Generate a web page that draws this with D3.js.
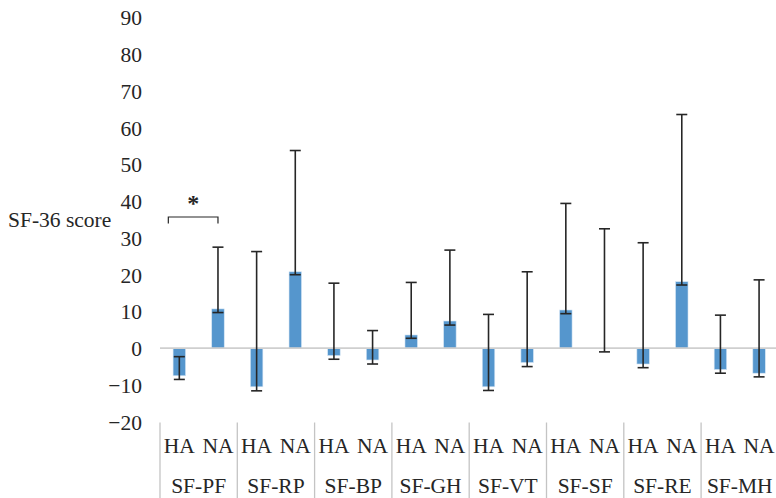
<!DOCTYPE html>
<html>
<head>
<meta charset="utf-8">
<script src="https://cdn.jsdelivr.net/npm/d3@7"></script>
<style>
  body { margin: 0; background: #fff; }
  svg text { font-family: "Liberation Serif", "Times New Roman", serif; fill: #262626; }
</style>
</head>
<body>
<div id="chart"></div>
<script>
// data
var domains = ['SF-PF', 'SF-RP', 'SF-BP', 'SF-GH', 'SF-VT', 'SF-SF', 'SF-RE', 'SF-MH'];
var groups = ['HA', 'NA'];

// mean change, per domain: [HA, NA]
var ha_values = [-7.5, -10.5, -2.0, 3.6, -10.5, 10.4, -4.3, -5.8];
var na_values = [10.7, 20.8, -3.2, 7.4, -3.9, 0.0, 18.1, -6.8];

// error bar ends
var ha_err_top = [-2.3, 26.3, 17.7, 17.9, 9.2, 39.4, 28.7, 9.0];
var ha_err_bottom = [-8.5, -11.6, -3.0, 2.7, -11.5, 9.4, -5.3, -6.8];
var na_err_top = [27.5, 53.8, 4.8, 26.7, 20.8, 32.5, 63.6, 18.6];
var na_err_bottom = [9.7, 20.0, -4.3, 6.3, -5.0, -1.0, 17.2, -7.8];

var y_ticks = [-20, -10, 0, 10, 20, 30, 40, 50, 60, 70, 80, 90];

var svg_size = { 'width': 776, 'height': 498 };
var bar_color = '#5596cd';
var text_size = '21.5px';

var rows = [];
domains.forEach(function(d, i){
    rows.push({ domain: d, group: 'HA', value: ha_values[i], top: ha_err_top[i], bottom: ha_err_bottom[i] });
    rows.push({ domain: d, group: 'NA', value: na_values[i], top: na_err_top[i], bottom: na_err_bottom[i] });
});

var svg = d3.select('#chart')
    .append('svg')
    .attr('width', svg_size.width)
    .attr('height', svg_size.height);

var x_scale = d3.scaleBand()
    .domain(domains)
    .range([160, 778.4])
    .padding(0);

var sub_scale = d3.scaleBand()
    .domain(groups)
    .range([0, x_scale.bandwidth()])
    .padding(0);

var y_scale = d3.scaleLinear()
    .domain([-20, 90])
    .range([421.7, 17.5]);

var bar_width = 12.5;
var cap_width = 11;

// y axis: labels only
var y_axis = d3.axisLeft(y_scale)
    .tickValues(y_ticks)
    .tickSize(0)
    .tickPadding(18)
    .tickFormat(d3.format('d'));

var y_axis_group = svg.append('g')
    .attr('transform', 'translate(160,0)')
    .call(y_axis);
y_axis_group.select('.domain').remove();
y_axis_group.attr('font-family', null).attr('font-size', null);
y_axis_group.selectAll('text')
    .style('font-size', text_size)
    .style('font-family', '"Liberation Serif", serif')
    .attr('fill', '#262626')
    .attr('dy', '0.34em');

svg.append('text')
    .attr('x', 8)
    .attr('y', 226.5)
    .style('font-size', text_size)
    .text('SF-36 score');

// bars
function center(d){
    return x_scale(d.domain) + sub_scale(d.group) + sub_scale.bandwidth()/2;
}

svg.append('g')
    .selectAll('rect')
    .data(rows)
    .enter()
    .append('rect')
    .attr('x', function(d){ return center(d) - bar_width/2; })
    .attr('y', function(d){ return y_scale(Math.max(0, d.value)); })
    .attr('width', bar_width)
    .attr('height', function(d){ return Math.abs(y_scale(d.value) - y_scale(0)); })
    .style('fill', bar_color)
    .style('stroke', '#d6e6f5')
    .style('stroke-width', 0.6);

// zero line
svg.append('line')
    .attr('x1', 160)
    .attr('x2', svg_size.width)
    .attr('y1', y_scale(0))
    .attr('y2', y_scale(0))
    .style('stroke', '#cfcfcf')
    .style('stroke-width', 1.8);

// error bars
var err = svg.append('g')
    .selectAll('.err')
    .data(rows)
    .enter()
    .append('g')
    .classed('err', true)
    .style('stroke', '#262626')
    .style('stroke-width', 1.6);

err.append('line')
    .attr('x1', center)
    .attr('x2', center)
    .attr('y1', function(d){ return y_scale(d.top); })
    .attr('y2', function(d){ return y_scale(d.bottom); });

err.append('line')
    .attr('x1', function(d){ return center(d) - cap_width/2; })
    .attr('x2', function(d){ return center(d) + cap_width/2; })
    .attr('y1', function(d){ return y_scale(d.top); })
    .attr('y2', function(d){ return y_scale(d.top); });

err.append('line')
    .attr('x1', function(d){ return center(d) - cap_width/2; })
    .attr('x2', function(d){ return center(d) + cap_width/2; })
    .attr('y1', function(d){ return y_scale(d.bottom); })
    .attr('y2', function(d){ return y_scale(d.bottom); });

// category axis: dividers and two label rows
var axis_top = 422.5;
svg.append('g')
    .selectAll('line')
    .data(domains)
    .enter()
    .append('line')
    .attr('x1', function(d){ return x_scale(d); })
    .attr('x2', function(d){ return x_scale(d); })
    .attr('y1', axis_top)
    .attr('y2', svg_size.height)
    .style('stroke', '#c4c4c4')
    .style('stroke-width', 1.3);

svg.append('g')
    .selectAll('text')
    .data(rows)
    .enter()
    .append('text')
    .attr('x', center)
    .attr('y', 453.3)
    .attr('text-anchor', 'middle')
    .style('font-size', text_size)
    .text(function(d){ return d.group; });

svg.append('g')
    .selectAll('text')
    .data(domains)
    .enter()
    .append('text')
    .attr('x', function(d){ return x_scale(d) + x_scale.bandwidth()/2; })
    .attr('y', 493)
    .attr('text-anchor', 'middle')
    .style('font-size', text_size)
    .text(function(d){ return d; });

// significance bracket between HA and NA in SF-PF
var b_left = x_scale('SF-PF') + sub_scale('HA') + sub_scale.bandwidth()/2 - 11;
var b_right = x_scale('SF-PF') + sub_scale('NA') + sub_scale.bandwidth()/2;
var b_y = 217;
svg.append('path')
    .attr('d', 'M' + b_left + ',' + (b_y + 6.5) + 'V' + b_y + 'H' + b_right + 'V' + (b_y + 6.5))
    .style('fill', 'none')
    .style('stroke', '#262626')
    .style('stroke-width', 1.2);

svg.append('text')
    .attr('x', (b_left + b_right)/2)
    .attr('y', 211)
    .attr('text-anchor', 'middle')
    .style('font-size', '24px')
    .style('font-weight', 'bold')
    .text('*');
</script>
</body>
</html>
